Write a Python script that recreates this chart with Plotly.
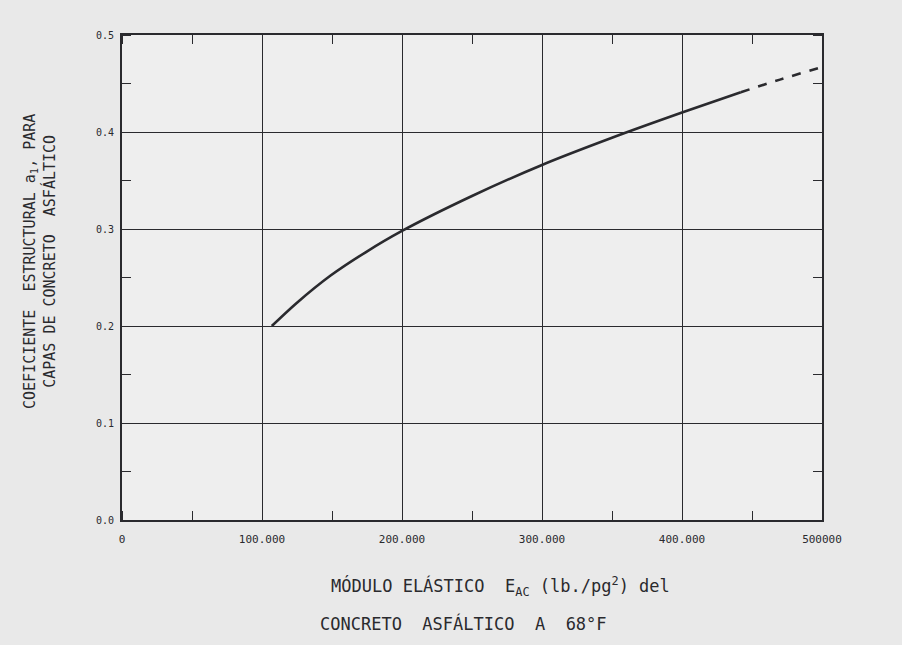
import plotly.graph_objects as go

# Data
solid_x = [107000, 125000, 149000, 174000, 200000, 250000, 300000, 350000, 400000, 442000]
solid_y = [0.200, 0.224, 0.252, 0.276, 0.298, 0.334, 0.366, 0.394, 0.420, 0.441]
dash_x = [442000, 470000, 500000]
dash_y = [0.441, 0.454, 0.467]

x_tickvals = [0, 100000, 200000, 300000, 400000, 500000]
x_ticktext = ["0", "100.000", "200.000", "300.000", "400.000", "500000"]
y_tickvals = [0.0, 0.1, 0.2, 0.3, 0.4, 0.5]
y_ticktext = ["0.0", "0.1", "0.2", "0.3", "0.4", "0.5"]

ink = "#2a2a2e"
paper = "#e9e9e9"
font = "DejaVu Sans Mono"

fig = go.Figure()
fig.add_trace(go.Scatter(x=solid_x, y=solid_y, mode="lines",
                         line=dict(color=ink, width=2.6, shape="spline", smoothing=0.8),
                         showlegend=False, hoverinfo="skip"))
fig.add_trace(go.Scatter(x=dash_x, y=dash_y, mode="lines",
                         line=dict(color=ink, width=2.6, dash="dash", shape="spline"),
                         showlegend=False, hoverinfo="skip"))
# invisible trace so the mirrored top/right axes (minor ticks) are drawn
fig.add_trace(go.Scatter(x=[dash_x[0]], y=[dash_y[0]], xaxis="x2", yaxis="y2",
                         mode="markers", marker=dict(opacity=0),
                         showlegend=False, hoverinfo="skip"))

L, R, T, B = 122, 80, 35, 125
plot_w = 902 - L - R
plot_h = 645 - T - B

minor_x = dict(dtick=50000, ticks="inside", ticklen=9, tickcolor=ink, tickwidth=1.2, showgrid=False)
minor_y = dict(dtick=0.05, ticks="inside", ticklen=9, tickcolor=ink, tickwidth=1.2, showgrid=False)

fig.update_layout(
    width=902, height=645,
    paper_bgcolor=paper, plot_bgcolor="#eeeeee",
    margin=dict(l=L, r=R, t=T, b=B),
    font=dict(family=font, color=ink),
    xaxis=dict(range=[0, 500000], tickvals=x_tickvals, ticktext=x_ticktext,
               showgrid=True, gridcolor=ink, gridwidth=1.2,
               showline=True, linecolor=ink, linewidth=2, mirror=True,
               ticks="", zeroline=False, ticklabelstandoff=8,
               tickfont=dict(size=11, family=font, color=ink),
               minor=minor_x),
    yaxis=dict(range=[0, 0.5], tickvals=y_tickvals, ticktext=y_ticktext,
               showgrid=True, gridcolor=ink, gridwidth=1.2,
               showline=True, linecolor=ink, linewidth=2, mirror=True,
               ticks="", zeroline=False, ticklabelstandoff=4,
               tickfont=dict(size=10, family=font, color=ink),
               minor=minor_y),
    xaxis2=dict(range=[0, 500000], overlaying="x", side="top", showgrid=False,
                showticklabels=False, ticks="", tickvals=x_tickvals,
                zeroline=False, showline=False, minor=minor_x),
    yaxis2=dict(range=[0, 0.5], overlaying="y", side="right", showgrid=False,
                showticklabels=False, ticks="", tickvals=y_tickvals,
                zeroline=False, showline=False, minor=minor_y),
)

def px_x(px):
    return (px - L) / plot_w

def px_y(py):
    return (645 - B - py) / plot_h

fig.add_annotation(xref="paper", yref="paper", x=px_x(40), y=px_y(262),
                   text="COEFICIENTE  ESTRUCTURAL a<sub>1</sub>, PARA<br>CAPAS DE CONCRETO  ASFÁLTICO",
                   textangle=-90, showarrow=False, align="center",
                   font=dict(size=15, family=font, color=ink), xanchor="center", yanchor="middle")
fig.add_annotation(xref="paper", yref="paper", x=px_x(500), y=px_y(586),
                   text="MÓDULO ELÁSTICO  E<sub>AC</sub> (lb./pg<sup>2</sup>) del",
                   showarrow=False, font=dict(size=17, family=font, color=ink),
                   xanchor="center", yanchor="middle")
fig.add_annotation(xref="paper", yref="paper", x=px_x(463), y=px_y(623),
                   text="CONCRETO  ASFÁLTICO  A  68°F",
                   showarrow=False, font=dict(size=17, family=font, color=ink),
                   xanchor="center", yanchor="middle")

fig.write_html("out.html", config={"displayModeBar": False},
               post_script="document.body.style.margin='0';document.body.style.background='%s';" % paper)
